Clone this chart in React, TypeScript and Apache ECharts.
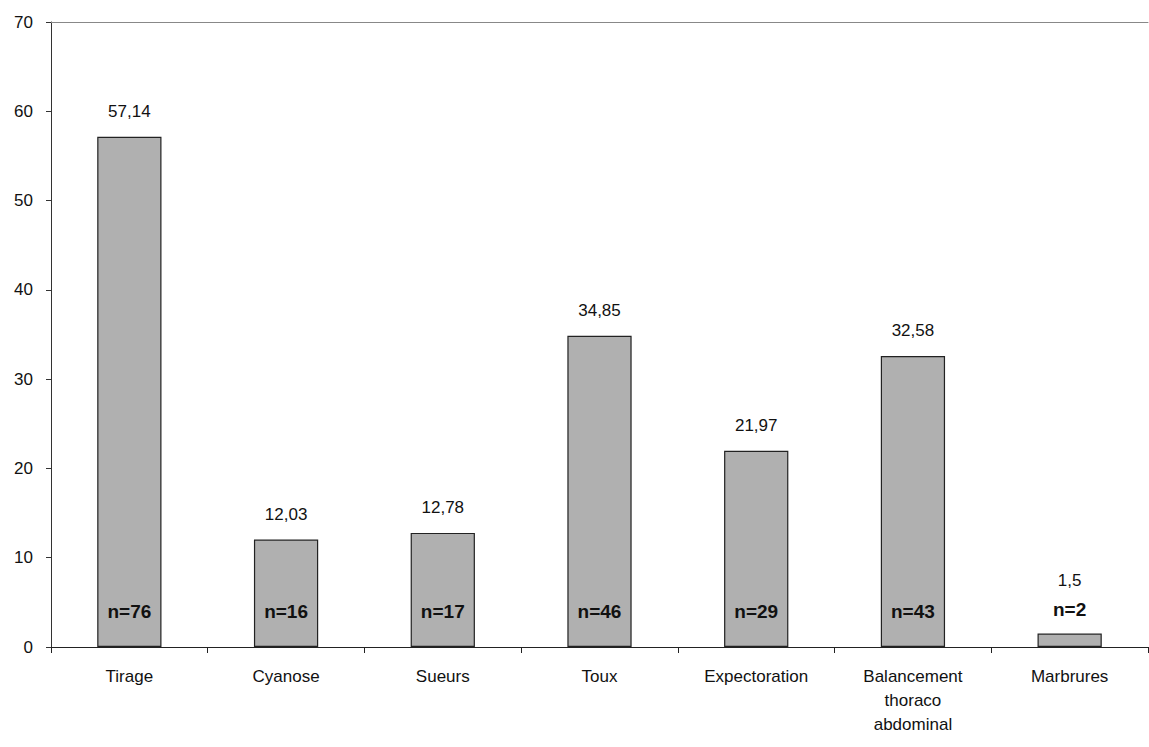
import React, { useEffect, useRef } from "react";
import * as echarts from "echarts";

const categories = ["Tirage", "Cyanose", "Sueurs", "Toux", "Expectoration", "Balancement\nthoraco\nabdominal", "Marbrures"];
const values = [57.14, 12.03, 12.78, 34.85, 21.97, 32.58, 1.5];
const counts = [76, 16, 17, 46, 29, 43, 2];
const yTicks = { min: 0, max: 70, interval: 10 };

const fmt = (v: number) => String(v).replace(".", ",");

export default function App() {
  const ref = useRef<HTMLDivElement>(null);
  useEffect(() => {
    if (!ref.current) return;
    const chart = echarts.init(ref.current, undefined, { renderer: "svg" });
    const small = (v: number) => v < 5;
    chart.setOption({
      animation: false,
      textStyle: { fontFamily: "Liberation Sans, Arial, sans-serif" },
      grid: { left: 51, right: 1, top: 22, bottom: 100, containLabel: false },
      xAxis: [
        {
          type: "category",
          data: categories,
          axisLine: { lineStyle: { color: "#222", width: 1 } },
          axisTick: { show: true, length: 6, lineStyle: { color: "#222" } },
          axisLabel: { color: "#111", fontSize: 17, margin: 17, lineHeight: 24, interval: 0 },
        },
        {
          type: "category",
          position: "top",
          data: categories,
          axisLine: { show: true, lineStyle: { color: "#888", width: 1 } },
          axisTick: { show: false },
          axisLabel: { show: false },
        },
      ],
      yAxis: {
        type: "value",
        min: yTicks.min,
        max: yTicks.max,
        interval: yTicks.interval,
        axisLine: { show: true, lineStyle: { color: "#333" } },
        axisTick: { show: true, length: 5, lineStyle: { color: "#333" } },
        axisLabel: { color: "#111", fontSize: 17, margin: 18 },
        splitLine: { show: false },
      },
      series: [
        {
          type: "bar",
          data: values.map((v) => ({
            value: v,
            label: small(v) ? { distance: 45 } : undefined,
          })),
          barWidth: "41%",
          itemStyle: { color: "#b0b0b0", borderColor: "#222", borderWidth: 1.2 },
          label: {
            show: true,
            position: "top",
            distance: 17,
            fontSize: 17,
            color: "#111",
            formatter: (p: any) => fmt(p.value),
          },
          z: 2,
        },
        {
          type: "bar",
          data: values.map((v) => ({
            value: v,
            label: small(v) ? { position: "top", distance: 15 } : undefined,
          })),
          barWidth: "41%",
          barGap: "-100%",
          itemStyle: { color: "transparent" },
          label: {
            show: true,
            position: "insideBottom",
            distance: 26,
            fontSize: 19,
            fontWeight: "bold",
            color: "#111",
            formatter: (p: any) => "n=" + counts[p.dataIndex],
          },
          z: 3,
        },
      ],
    });
    return () => chart.dispose();
  }, []);
  return <div ref={ref} style={{ width: 1149, height: 747, position: "absolute", left: 0, top: 0 }} />;
}
